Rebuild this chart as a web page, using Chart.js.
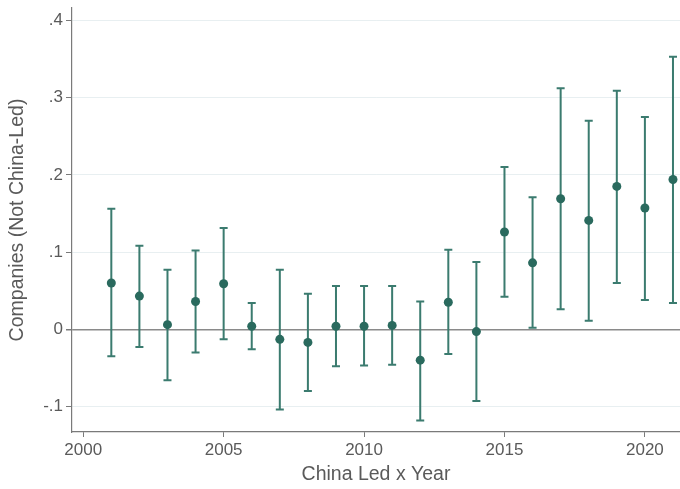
<!DOCTYPE html>
<html>
<head>
<meta charset="utf-8">
<script src="https://cdn.jsdelivr.net/npm/chart.js@4/dist/chart.umd.min.js"></script>
<style>
  body { margin: 0; background: #fff; }
  #wrap { width: 680px; height: 489px; }
</style>
</head>
<body>
<div id="wrap"><canvas id="coefChart" width="680" height="489"></canvas></div>
<script>
// coefficients by year, with 95% CI ends
const years = [2001,2002,2003,2004,2005,2006,2007,2008,2009,2010,2011,2012,2013,2014,2015,2016,2017,2018,2019,2020,2021];
const coef  = [0.060,0.043,0.006,0.036,0.059,0.004,-0.013,-0.017,0.004,0.004,0.005,-0.040,0.035,-0.003,0.126,0.086,0.169,0.141,0.185,0.157,0.194];
const ciLow = [-0.035,-0.023,-0.066,-0.030,-0.013,-0.026,-0.104,-0.080,-0.048,-0.047,-0.046,-0.118,-0.032,-0.093,0.042,0.002,0.026,0.011,0.060,0.038,0.034];
const ciHigh= [0.156,0.108,0.077,0.102,0.131,0.034,0.077,0.046,0.056,0.056,0.056,0.036,0.103,0.087,0.210,0.171,0.312,0.270,0.309,0.275,0.353];
const xTicks = [2000,2005,2010,2015,2020];
const yTicks = [-0.1,0,0.1,0.2,0.3,0.4];

const markColor = '#2a6a5e';
const barColor = '#3b7b6f';
const axisColor = '#7a7a7a';
const textColor = '#5a5a5a';
const fam = 'Liberation Sans, Arial, sans-serif';

const errorBars = {
  id: 'errorBars',
  beforeDatasetsDraw(chart) {
    const ctx = chart.ctx, xs = chart.scales.x, ys = chart.scales.y;
    ctx.save();
    ctx.strokeStyle = barColor;
    ctx.lineWidth = 2;
    years.forEach((yr, i) => {
      const x = xs.getPixelForValue(yr);
      const top = ys.getPixelForValue(ciHigh[i]);
      const bot = ys.getPixelForValue(ciLow[i]);
      ctx.beginPath();
      ctx.moveTo(x, top); ctx.lineTo(x, bot);
      ctx.moveTo(x - 4, top); ctx.lineTo(x + 4, top);
      ctx.moveTo(x - 4, bot); ctx.lineTo(x + 4, bot);
      ctx.stroke();
    });
    ctx.restore();
  }
};

new Chart(document.getElementById('coefChart').getContext('2d'), {
  type: 'scatter',
  data: {
    datasets: [{
      data: years.map((yr, i) => ({ x: yr, y: coef[i] })),
      backgroundColor: markColor,
      borderWidth: 0,
      pointRadius: 4.5,
      pointHoverRadius: 4.5
    }]
  },
  plugins: [errorBars],
  options: {
    responsive: false,
    animation: false,
    events: [],
    layout: { autoPadding: false, padding: { top: 8, right: 0, left: 0, bottom: 0 } },
    plugins: { legend: { display: false }, tooltip: { enabled: false } },
    scales: {
      x: {
        type: 'linear',
        min: 1999.6,
        max: 2021.25,
        afterBuildTicks: s => { s.ticks = xTicks.map(v => ({ value: v })); },
        afterFit: s => { s.height = 57; s.paddingLeft = 0; s.paddingRight = 0; },
        grid: { drawOnChartArea: false, tickLength: 5, tickColor: axisColor, tickWidth: 1 },
        border: { color: axisColor, width: 1.2 },
        ticks: { color: textColor, font: { family: fam, size: 17 }, padding: 3, maxRotation: 0, callback: v => String(v) },
        title: { display: true, text: 'China Led x Year', color: textColor, font: { family: fam, size: 19.5 }, padding: { top: 0, bottom: 3 } }
      },
      y: {
        min: -0.133,
        max: 0.416,
        afterBuildTicks: s => { s.ticks = yTicks.map(v => ({ value: v })); },
        afterFit: s => { s.width = 72; s.paddingTop = 0; s.paddingBottom = 0; },
        grid: {
          color: c => (c.tick && c.tick.value === 0) ? '#8a8a8a' : '#e8eff1',
          lineWidth: c => (c.tick && c.tick.value === 0) ? 1.5 : 1,
          tickColor: axisColor,
          tickLength: 6
        },
        border: { color: axisColor, width: 1.2 },
        ticks: {
          color: textColor,
          font: { family: fam, size: 17 },
          padding: 3,
          callback: v => {
            const r = Math.round(v * 10) / 10;
            if (r === 0) return '0';
            return r.toString().replace('0.', '.');
          }
        },
        title: { display: true, text: 'Companies (Not China-Led)', color: textColor, font: { family: fam, size: 19.5 }, padding: { top: 6, bottom: 0 } }
      }
    }
  }
});
</script>
</body>
</html>
